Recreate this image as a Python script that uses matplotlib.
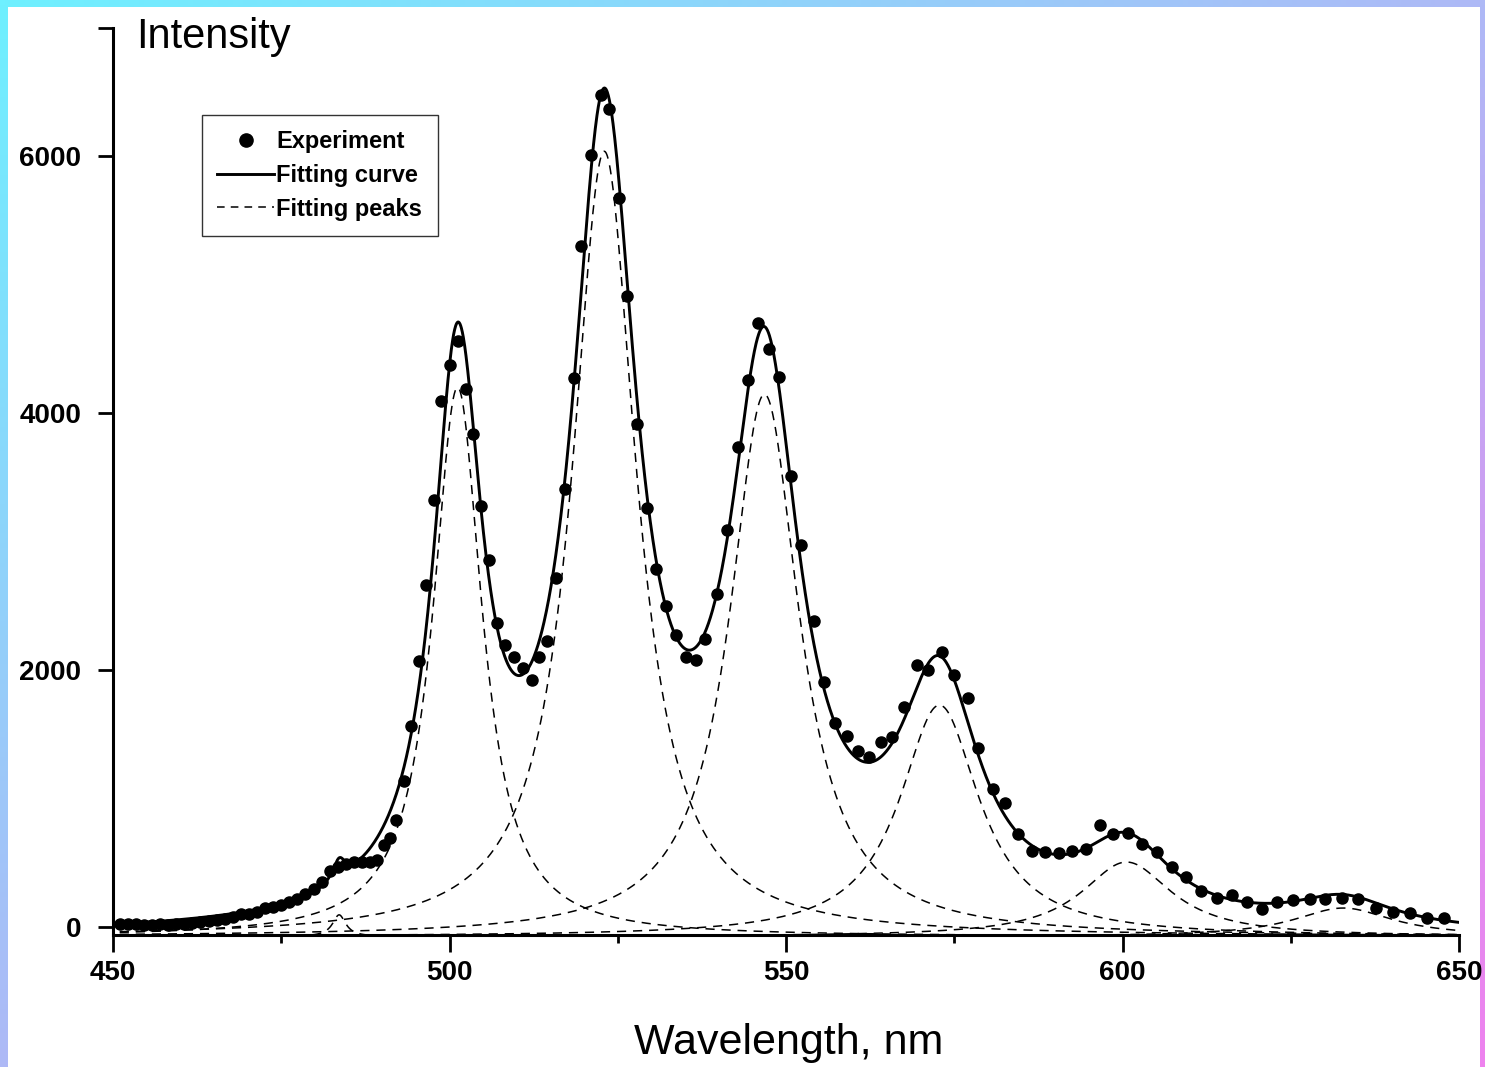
import numpy as np
import matplotlib
matplotlib.use("Agg")
import matplotlib.pyplot as plt
from matplotlib.lines import Line2D
from matplotlib.patches import Rectangle

# ---------------- data ----------------
exp_wavelength = [
    451.0, 452.2, 453.4, 454.6, 455.8, 457.0, 458.2, 459.4, 460.6, 461.8,
    463.0, 464.2, 465.4, 466.6, 467.8, 469.0, 470.2, 471.4, 472.6, 473.8,
    475.0, 476.2, 477.4, 478.6, 479.8, 481.0, 482.2, 483.4, 484.6, 485.8,
    487.0, 488.2, 489.3, 490.2, 491.2, 492.1, 493.3, 494.3, 495.4, 496.5,
    497.7, 498.7, 500.0, 501.2, 502.5, 503.5, 504.7, 505.9, 507.1, 508.3,
    509.6, 510.9, 512.2, 513.3, 514.5, 515.8, 517.2, 518.5, 519.5, 521.0,
    522.5, 523.7, 525.2, 526.4, 527.9, 529.4, 530.7, 532.2, 533.7, 535.1,
    536.6, 538.0, 539.8, 541.3, 542.8, 544.3, 545.9, 547.5, 549.0, 550.7,
    552.3, 554.1, 555.7, 557.3, 559.0, 560.7, 562.4, 564.1, 565.8, 567.6,
    569.4, 571.1, 573.2, 575.0, 577.1, 578.6, 580.8, 582.5, 584.5, 586.5,
    588.5, 590.5, 592.5, 594.6, 596.6, 598.6, 600.8, 602.9, 605.1, 607.3,
    609.5, 611.6, 614.0, 616.2, 618.5, 620.8, 622.9, 625.4, 627.9, 630.1,
    632.6, 635.0, 637.6, 640.2, 642.7, 645.2, 647.7,
]
exp_intensity = [
    25, 22, 24, 18, 16, 20, 12, 22, 25, 30,
    38, 45, 55, 65, 75, 100, 105, 120, 145, 155,
    175, 195, 220, 255, 295, 350, 440, 470, 490, 505,
    510, 508, 520, 640, 690, 830, 1140, 1564, 2072, 2667,
    3323, 4093, 4374, 4563, 4192, 3842, 3279, 2856, 2368, 2194,
    2103, 2013, 1922, 2103, 2226, 2721, 3409, 4278, 5300, 6008,
    6475, 6366, 5673, 4910, 3914, 3261, 2786, 2498, 2272, 2099,
    2078, 2239, 2591, 3095, 3735, 4257, 4703, 4498, 4282, 3512,
    2973, 2384, 1909, 1590, 1489, 1370, 1321, 1437, 1476, 1714,
    2044, 2005, 2142, 1961, 1780, 1391, 1074, 965, 724, 594,
    586, 573, 594, 605, 794, 724, 729, 646, 586, 469,
    387, 283, 223, 249, 197, 138, 197, 210, 215, 218,
    223, 215, 146, 119, 107, 72, 68,
]

# fitted Lorentzian components (centre, height, half width) and common offset
peak_center = [483.6, 501.2, 523.0, 546.8, 572.8, 600.6, 632.8]
peak_height = [170, 4277, 6115, 4223, 1803, 581, 223]
peak_halfwidth = [1.2, 4.45, 5.8, 6.3, 7.2, 8.2, 9.0]
fit_offset = -75
fit_range = [451, 650]

x_ticks = [450, 500, 550, 600, 650]
x_minor_ticks = [475, 525, 575, 625]
y_ticks = [0, 2000, 4000, 6000, 7000]
y_ticklabels = ['0', '2000', '4000', '6000', '']
legend_labels = ['Experiment', 'Fitting curve', 'Fitting peaks']
x_label = 'Wavelength, nm'
y_label = 'Intensity'

# ---------------- figure ----------------
W, H = 1485, 1067
fig = plt.figure(figsize=(W / 100, H / 100), dpi=100)

# gradient frame
bg = fig.add_axes([0, 0, 1, 1], zorder=0)
bg.axis('off')
u = np.linspace(0, 1, 300)[None, :]
v = np.linspace(0, 1, 220)[:, None]
t = (u + v) / 2.0
c0 = np.array([0x6e, 0xf0, 0xff]) / 255.0
c1 = np.array([0xee, 0x82, 0xee]) / 255.0
img = c0[None, None, :] * (1 - t[..., None]) + c1[None, None, :] * t[..., None]
bg.imshow(img, extent=(0, 1, 0, 1), aspect='auto', origin='upper')
bg.set_xlim(0, 1)
bg.set_ylim(0, 1)
bg.add_patch(Rectangle((8 / W, 0), (1480 - 8) / W, (H - 7) / H,
                       transform=bg.transAxes, facecolor='white', edgecolor='none'))

ax = fig.add_axes([113 / W, 132 / H, 1346 / W, 907 / H], zorder=1)
ax.set_facecolor('none')

xs = np.linspace(fit_range[0], fit_range[1], 4000)
components = []
for c, h, w in zip(peak_center, peak_height, peak_halfwidth):
    comp = h / (1.0 + ((xs - c) / w) ** 2)
    components.append(comp)
    ax.plot(xs, fit_offset + comp, color='black', lw=1.1,
            linestyle=(0, (6, 4.5)), zorder=2)
ax.plot(xs, fit_offset + np.sum(components, axis=0), color='black', lw=2.1, zorder=3)
ax.plot(exp_wavelength, exp_intensity, 'o', color='black', ms=8, zorder=4)

ax.set_xlim(450, 650)
ax.set_ylim(-62, 7000)

tick_font = dict(family='Liberation Sans', weight='bold', size=20)
ax.set_xticks(x_ticks)
ax.set_xticklabels([str(v) for v in x_ticks], fontdict=tick_font)
ax.set_xticks(x_minor_ticks, minor=True)
ax.set_yticks(y_ticks)
ax.set_yticklabels(y_ticklabels, fontdict=tick_font)

ax.tick_params(axis='x', which='major', direction='out', length=12, width=2, pad=6)
ax.tick_params(axis='x', which='minor', direction='out', length=6, width=2)
ax.tick_params(axis='y', which='major', direction='out', length=11, width=2, pad=12)

for s in ['top', 'right']:
    ax.spines[s].set_visible(False)
for s in ['left', 'bottom']:
    ax.spines[s].set_linewidth(2.2)

ax.set_xlabel(x_label, family='Liberation Sans', size=31)
ax.xaxis.label.set_va('baseline')
ax.xaxis.set_label_coords((789 - 113) / 1346, (935 - 1054) / 907)

ax.set_ylabel(y_label, family='Liberation Sans', size=30, rotation=0)
ax.yaxis.label.set_ha('left')
ax.yaxis.label.set_va('baseline')
ax.yaxis.set_label_coords((136 - 113) / 1346, (935 - 48) / 907)

handles = [
    Line2D([], [], marker='o', ls='none', color='black', ms=9.5),
    Line2D([], [], color='black', lw=2.1),
    Line2D([], [], color='black', lw=1.1, linestyle=(0, (5, 4))),
]
leg = ax.legend(handles, legend_labels, loc='upper left',
                bbox_to_anchor=((202 - 113) / 1346, (935 - 115) / 907),
                borderaxespad=0, frameon=True, fancybox=False,
                prop=dict(family='Liberation Sans', weight='bold', size=17),
                handlelength=2.4, handletextpad=0.1, borderpad=0.65,
                labelspacing=0.45)
leg.get_frame().set_edgecolor('black')
leg.get_frame().set_linewidth(1.0)

fig.savefig('out.png', dpi=100)
